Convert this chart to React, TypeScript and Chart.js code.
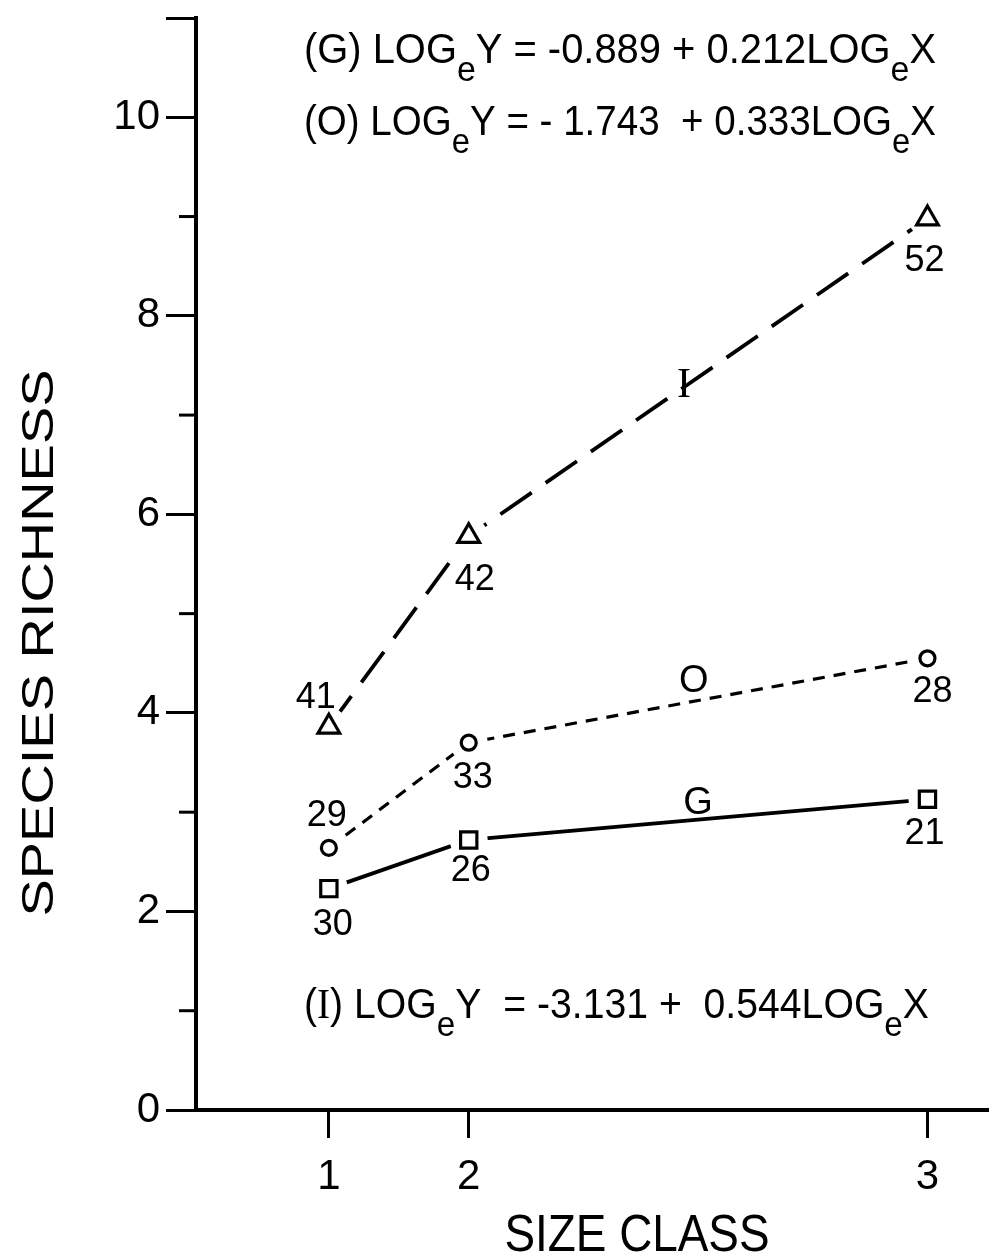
import React, { useEffect, useRef } from 'react';
import { Chart, registerables } from 'chart.js';

Chart.register(...registerables);

// ---------- data ----------
const sizeClassLabels = ['1', '2', '3'];
// axis position of each size class (the original axis is unevenly spaced)
const sizeClassPositions = [1, 2, 5.28];
const richnessI = [3.86, 5.78, 8.98];
const richnessO = [2.64, 3.7, 4.55];
const richnessG = [2.23, 2.72, 3.13];
const samplesI = ['41', '42', '52'];
const samplesO = ['29', '33', '28'];
const samplesG = ['30', '26', '21'];
const yMajorTickLabels = ['0', '2', '4', '6', '8', '10'];
const equationG = ['(G) LOG', 'e', 'Y = -0.889 + 0.212LOG', 'e', 'X'];
const equationO = ['(O) LOG', 'e', 'Y = - 1.743  + 0.333LOG', 'e', 'X'];
const equationI = ['(', 'I', ') LOG', 'e', 'Y  = -3.131 +  0.544LOG', 'e', 'X'];

// ---------- styles / placement ----------
const SANS = '"Liberation Sans", Arial, sans-serif';
const SERIF = '"Liberation Serif", serif';
const INK = '#000';

const labelOffsetsI = [[-13, -32], [6, 41], [-3, 40]];
const labelOffsetsO = [[-2, -35], [4, 32], [5, 31]];
const labelOffsetsG = [[4, 33], [2, 28], [-3, 32]];

const pts = (ys: number[]) => ys.map((y, i) => ({ x: sizeClassPositions[i], y }));

type Part = { t: string; sub?: boolean; serif?: boolean };

function drawRich(
  ctx: CanvasRenderingContext2D,
  parts: Part[],
  cx: number,
  capMid: number,
  size: number,
  targetW: number,
  anchor: 'left' | 'center'
) {
  const subSize = size * 0.85;
  const fontOf = (p: Part) =>
    `${p.sub ? subSize : size}px ${p.serif ? SERIF : SANS}`;
  let W = 0;
  const widths = parts.map((p) => {
    ctx.font = fontOf(p);
    const w = ctx.measureText(p.t).width;
    W += w;
    return w;
  });
  const s = targetW / W;
  const baseline = capMid + 0.358 * size;
  ctx.save();
  const x0 = anchor === 'left' ? cx : cx - targetW / 2;
  ctx.translate(x0, baseline);
  ctx.scale(s, 1);
  ctx.fillStyle = INK;
  ctx.textBaseline = 'alphabetic';
  ctx.textAlign = 'left';
  let x = 0;
  parts.forEach((p, i) => {
    ctx.font = fontOf(p);
    ctx.fillText(p.t, x, p.sub ? size * 0.42 : 0);
    x += widths[i];
  });
  ctx.restore();
}

function eqParts(arr: string[]): Part[] {
  return arr.map((t) => ({ t, sub: t === 'e', serif: t === 'I' }));
}

const annotationPlugin = {
  id: 'annotations',
  afterDraw(chart: any) {
    const ctx: CanvasRenderingContext2D = chart.ctx;
    const xs = chart.scales.x;
    const ys = chart.scales.y;
    const left = chart.chartArea.left;

    // minor y ticks
    ctx.save();
    ctx.strokeStyle = INK;
    ctx.lineWidth = 3;
    [1, 3, 5, 7, 9].forEach((v) => {
      const y = ys.getPixelForValue(v);
      ctx.beginPath();
      ctx.moveTo(left - 17, y);
      ctx.lineTo(left, y);
      ctx.stroke();
    });
    ctx.restore();

    // sample-size labels
    const drawCounts = (vals: number[], labels: string[], offs: number[][]) => {
      vals.forEach((v, i) => {
        const px = xs.getPixelForValue(sizeClassPositions[i]) + offs[i][0];
        const py = ys.getPixelForValue(v) + offs[i][1];
        ctx.save();
        ctx.font = `36px ${SANS}`;
        ctx.fillStyle = INK;
        ctx.textAlign = 'center';
        ctx.textBaseline = 'alphabetic';
        ctx.fillText(labels[i], px, py + 0.358 * 36);
        ctx.restore();
      });
    };
    drawCounts(richnessI, samplesI, labelOffsetsI);
    drawCounts(richnessO, samplesO, labelOffsetsO);
    drawCounts(richnessG, samplesG, labelOffsetsG);

    // series names
    const seriesName = (t: string, xv: number, yv: number, serif: boolean) => {
      ctx.save();
      ctx.font = `${serif ? 42 : 38}px ${serif ? SERIF : SANS}`;
      ctx.fillStyle = INK;
      ctx.textAlign = 'center';
      ctx.textBaseline = 'alphabetic';
      ctx.fillText(t, xs.getPixelForValue(xv), ys.getPixelForValue(yv) + 14);
      ctx.restore();
    };
    seriesName('I', 3.54, 7.32, true);
    seriesName('O', 3.61, 4.35, false);
    seriesName('G', 3.64, 3.12, false);

    // equations
    drawRich(ctx, eqParts(equationG), 304, 48, 42, 632, 'left');
    drawRich(ctx, eqParts(equationO), 304, 120, 42, 632, 'left');
    drawRich(ctx, eqParts(equationI), 304, 1003, 42, 625, 'left');

    // x title
    drawRich(ctx, [{ t: 'SIZE CLASS' }], 637, 1233, 51, 265, 'center');

    // y title
    ctx.save();
    ctx.translate(37, 643);
    ctx.rotate(-Math.PI / 2);
    drawRich(ctx, [{ t: 'SPECIES RICHNESS' }], 0, 0, 45, 547, 'center');
    ctx.restore();
  },
};

const zeroPadding = (s: any) => {
  s.paddingTop = 0;
  s.paddingBottom = 0;
  s.paddingLeft = 0;
  s.paddingRight = 0;
};

export default function App() {
  const ref = useRef<HTMLCanvasElement | null>(null);

  useEffect(() => {
    if (!ref.current) return;
    const lineDs = (ys: number[], dash: number[], w: number) => ({
      data: pts(ys),
      borderColor: INK,
      borderWidth: w,
      borderDash: dash,
      pointRadius: 0,
      fill: false,
      tension: 0,
      order: 3,
    });
    const markerDs = (ys: number[], style: string, r: number) => ({
      data: pts(ys),
      showLine: false,
      pointStyle: style,
      pointRadius: r,
      pointBorderWidth: 3.2,
      pointBorderColor: INK,
      pointBackgroundColor: '#fff',
      order: 1,
    });
    const chart = new Chart(ref.current, {
      type: 'line',
      data: {
        datasets: [
          markerDs(richnessI, 'triangle', 12.5),
          markerDs(richnessO, 'circle', 7.5),
          markerDs(richnessG, 'rect', 11.5),
          {
            data: [...pts(richnessI), ...pts(richnessO), ...pts(richnessG)],
            showLine: false,
            pointRadius: 19,
            pointBorderWidth: 0,
            pointBackgroundColor: '#fff',
            pointBorderColor: '#fff',
            order: 2,
          } as any,
          lineDs(richnessI, [38, 17], 3.8),
          lineDs(richnessO, [12, 9], 3.2),
          lineDs(richnessG, [], 3.8),
        ] as any,
      },
      options: {
        animation: false,
        responsive: false,
        maintainAspectRatio: false,
        devicePixelRatio: 1,
        events: [],
        layout: { autoPadding: false, padding: { top: 18, right: 0, left: 0, bottom: 0 } },
        plugins: {
          legend: { display: false },
          tooltip: { enabled: false },
          title: { display: false },
        },
        scales: {
          x: {
            type: 'linear',
            position: 'bottom',
            min: 0.05,
            max: 5.72,
            afterBuildTicks: (s: any) => {
              s.ticks = sizeClassPositions.map((v) => ({ value: v }));
            },
            afterFit: (s: any) => {
              s.height = 150;
              zeroPadding(s);
            },
            ticks: {
              autoSkip: false,
              maxRotation: 0,
              padding: 14,
              color: INK,
              font: { family: SANS, size: 42 },
              callback: (_v: any, i: number) => sizeClassLabels[i],
            },
            grid: {
              drawOnChartArea: false,
              drawTicks: true,
              tickLength: 28,
              tickWidth: 3,
              tickColor: INK,
              color: INK,
            },
            border: { display: true, color: INK, width: 4 },
          },
          y: {
            type: 'linear',
            min: 0,
            max: 11,
            afterFit: (s: any) => {
              s.width = 196;
              zeroPadding(s);
            },
            ticks: {
              stepSize: 1,
              autoSkip: false,
              padding: 6,
              color: INK,
              font: { family: SANS, size: 42 },
              callback: (v: any) =>
                yMajorTickLabels.includes(String(v)) ? String(v) : '',
            },
            grid: {
              drawOnChartArea: false,
              drawTicks: true,
              tickLength: 30,
              tickWidth: 3,
              tickColor: (c: any) =>
                c.tick && (c.tick.value % 2 === 0 || c.tick.value === 11)
                  ? INK
                  : 'rgba(0,0,0,0)',
              color: INK,
            },
            border: { display: true, color: INK, width: 4 },
          },
        },
      } as any,
      plugins: [annotationPlugin],
    });
    return () => chart.destroy();
  }, []);

  return (
    <canvas
      ref={ref}
      width={989}
      height={1260}
      style={{ position: 'fixed', left: 0, top: 0, background: '#fff' }}
    />
  );
}
